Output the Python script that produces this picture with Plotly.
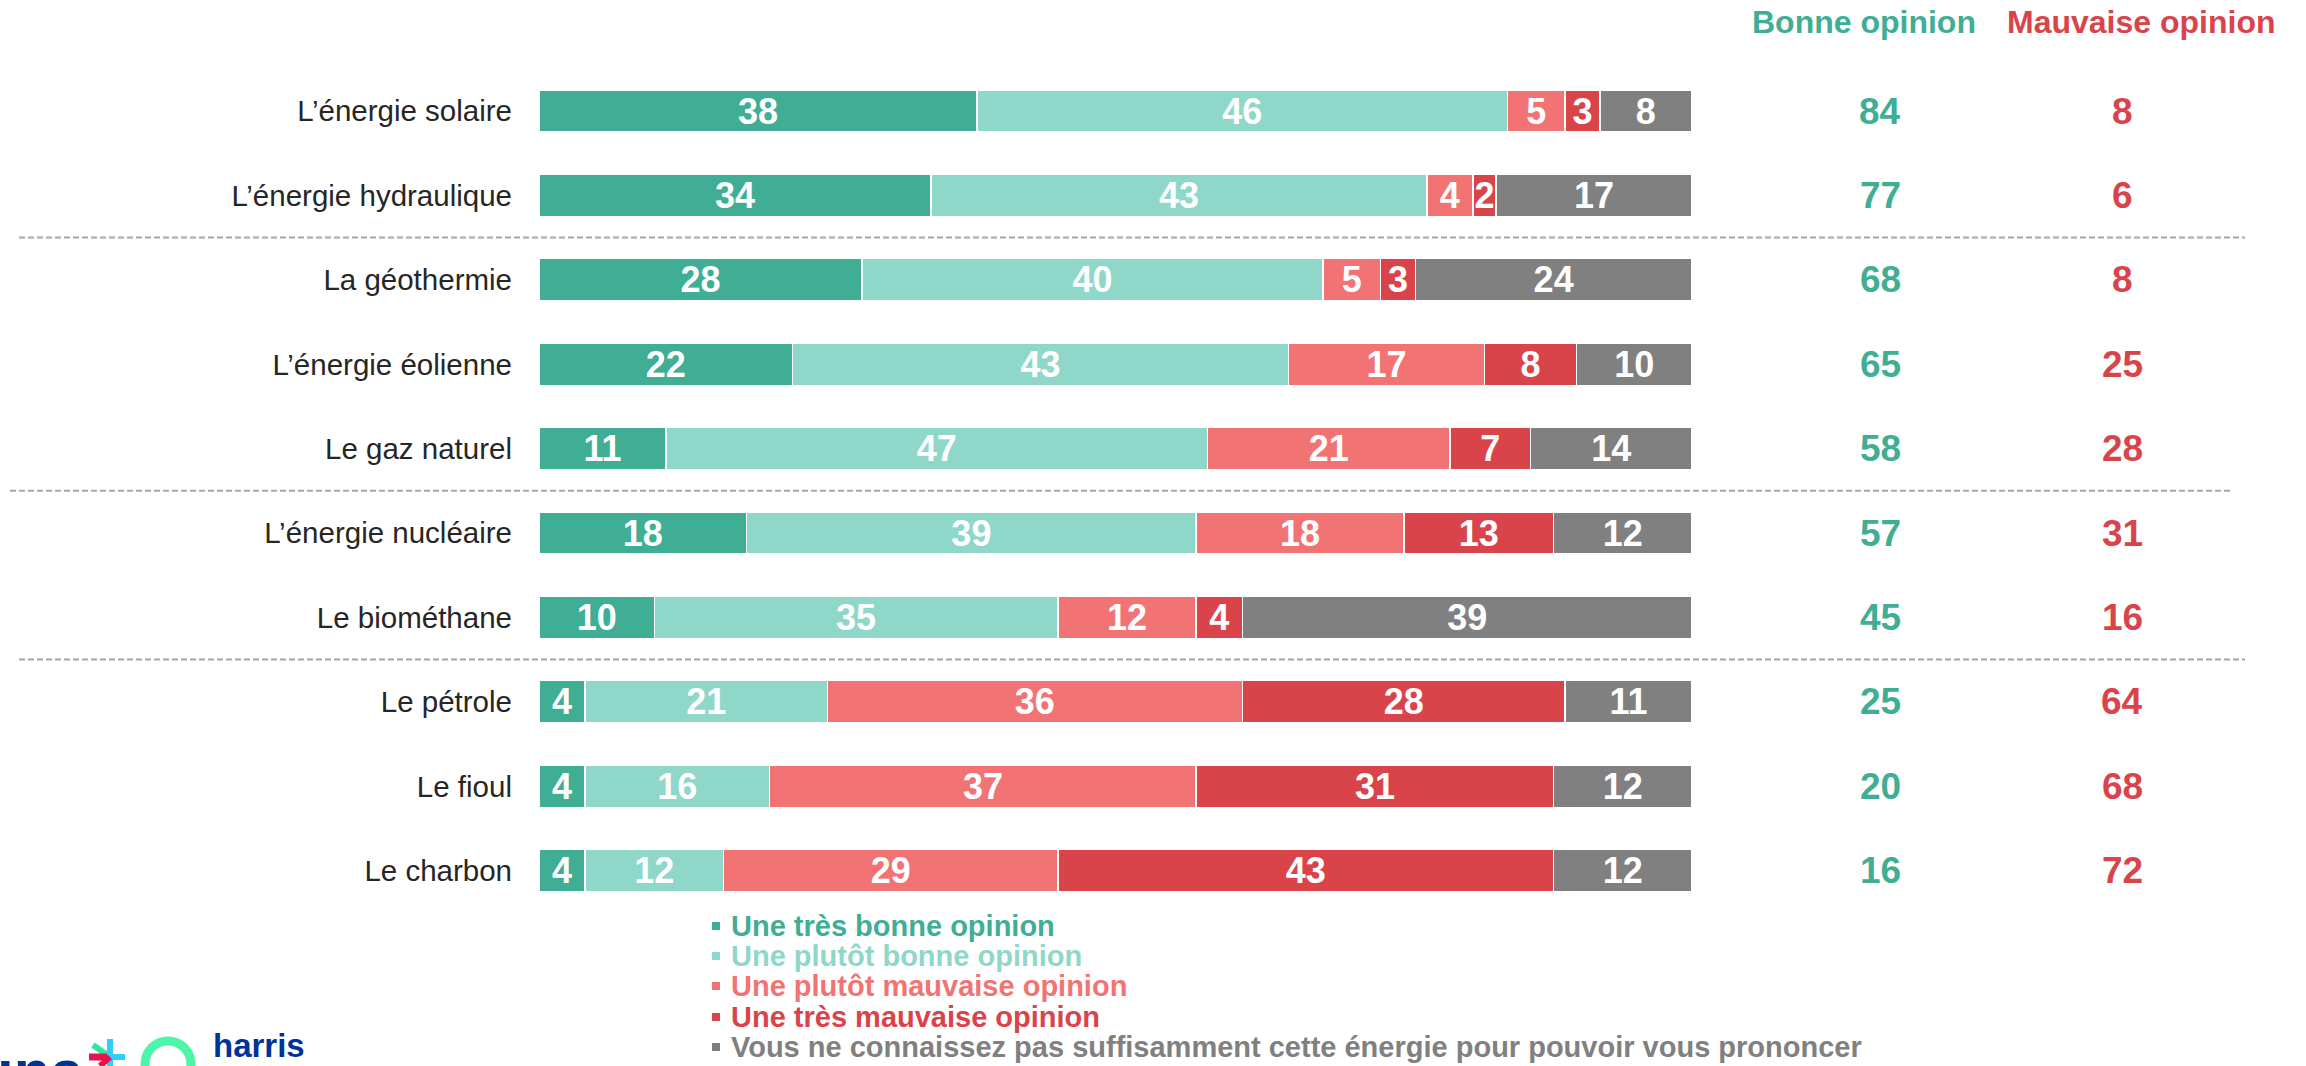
import plotly.graph_objects as go

categories = ["L’énergie solaire", "L’énergie hydraulique", "La géothermie",
              "L’énergie éolienne", "Le gaz naturel", "L’énergie nucléaire",
              "Le biométhane", "Le pétrole", "Le fioul", "Le charbon"]
tres_bonne = [38, 34, 28, 22, 11, 18, 10, 4, 4, 4]
plutot_bonne = [46, 43, 40, 43, 47, 39, 35, 21, 16, 12]
plutot_mauvaise = [5, 4, 5, 17, 21, 18, 12, 36, 37, 29]
tres_mauvaise = [3, 2, 3, 8, 7, 13, 4, 28, 31, 43]
ne_sait_pas = [8, 17, 24, 10, 14, 12, 39, 11, 12, 12]
bonne_total = [84, 77, 68, 65, 58, 57, 45, 25, 20, 16]
mauvaise_total = [8, 6, 8, 25, 28, 31, 16, 64, 68, 72]
series_names = ["Une très bonne opinion", "Une plutôt bonne opinion",
                "Une plutôt mauvaise opinion", "Une très mauvaise opinion",
                "Vous ne connaissez pas suffisamment cette énergie pour pouvoir vous prononcer"]
series_values = [tres_bonne, plutot_bonne, plutot_mauvaise, tres_mauvaise, ne_sait_pas]
colors = ["#3FAE94", "#8FD7C8", "#F27374", "#D9444B", "#808080"]
header_labels = ["Bonne opinion", "Mauvaise opinion"]
separator_positions = [1.5, 4.5, 6.5]

W, H = 2306, 1066
L, R = 539, 1692
ROW0, ROWSTEP = 111, 84.4
FONT = "Liberation Sans, Arial, sans-serif"


def px_x(px):
    return (px - L) / (R - L)


def px_y(py):
    return 1 - py / H


fig = go.Figure()
for name, vals, col in zip(series_names, series_values, colors):
    fig.add_trace(go.Bar(
        y=categories, x=vals, name=name, orientation="h",
        marker=dict(color=col, line=dict(color="white", width=1.5)),
        width=0.5,
        text=vals, texttemplate="%{x}", textposition="inside",
        insidetextanchor="middle", constraintext="none", textangle=0,
        textfont=dict(color="white", size=36, family=FONT, weight="bold"),
        hoverinfo="skip", showlegend=False,
    ))

annotations = []
annotations.append(dict(x=px_x(1864), y=px_y(22), xref="paper", yref="paper",
                        xanchor="center", yanchor="middle",
                        text="<b>%s</b>" % header_labels[0], showarrow=False,
                        font=dict(size=32, color=colors[0], family=FONT)))
annotations.append(dict(x=px_x(2141), y=px_y(22), xref="paper", yref="paper",
                        xanchor="center", yanchor="middle",
                        text="<b>%s</b>" % header_labels[1], showarrow=False,
                        font=dict(size=32, color=colors[3], family=FONT)))
for cat, b, m in zip(categories, bonne_total, mauvaise_total):
    annotations.append(dict(x=px_x(1880), y=cat, xref="paper", yref="y",
                            xanchor="center", yanchor="middle",
                            text="<b>%d</b>" % b, showarrow=False,
                            font=dict(size=37, color=colors[0], family=FONT)))
    annotations.append(dict(x=px_x(2122), y=cat, xref="paper", yref="y",
                            xanchor="center", yanchor="middle",
                            text="<b>%d</b>" % m, showarrow=False,
                            font=dict(size=37, color=colors[3], family=FONT)))

shapes = []
sep_x = [(19, 2245), (10, 2231), (19, 2245)]
for yy, (x0, x1) in zip(separator_positions, sep_x):
    shapes.append(dict(type="line", xref="paper", yref="y", x0=px_x(x0), x1=px_x(x1),
                       y0=yy, y1=yy, line=dict(color="#A6A6A6", width=2, dash="6px,3px")))

# legend
leg_y = [926, 956, 986, 1017, 1047]
for name, col, ly in zip(series_names, colors, leg_y):
    shapes.append(dict(type="rect", xref="paper", yref="paper",
                       x0=px_x(712), x1=px_x(720), y0=px_y(ly + 4), y1=px_y(ly - 4),
                       fillcolor=col, line=dict(width=0)))
    annotations.append(dict(x=px_x(729), y=px_y(ly), xref="paper", yref="paper",
                            xanchor="left", yanchor="middle", text="<b>%s</b>" % name,
                            showarrow=False, font=dict(size=29, color=col, family=FONT)))

# logo (approximation)
annotations.append(dict(x=px_x(86), y=px_y(1036), xref="paper", yref="paper",
                        xanchor="right", yanchor="top", text="<b>una</b>", showarrow=False,
                        font=dict(size=60, color="#003399", family=FONT)))
star = [((93, 1045), (110, 1057), "#2EE6A0", 6),
        ((89, 1057), (110, 1057), "#E8114B", 7),
        ((110, 1039), (110, 1066), "#33CCFF", 6),
        ((110, 1057), (125, 1057), "#33CCFF", 6),
        ((110, 1057), (100, 1066), "#E8114B", 6)]
for (x0, y0), (x1, y1), c, w in star:
    shapes.append(dict(type="line", xref="paper", yref="paper",
                       x0=px_x(x0), x1=px_x(x1), y0=px_y(y0), y1=px_y(y1),
                       line=dict(color=c, width=w)))
shapes.append(dict(type="circle", xref="paper", yref="paper",
                   x0=px_x(145), x1=px_x(191), y0=px_y(1087), y1=px_y(1041),
                   line=dict(color="#4DF5A8", width=9)))
annotations.append(dict(x=px_x(211), y=px_y(1066), xref="paper", yref="paper",
                        xanchor="left", yanchor="bottom", text="<b>harris</b>", showarrow=False,
                        font=dict(size=33, color="#003399", family=FONT)))

fig.update_layout(
    width=W, height=H, autosize=False,
    margin=dict(l=L, r=W - R, t=0, b=0, pad=0),
    paper_bgcolor="white", plot_bgcolor="white",
    barmode="stack", bargap=0.5,
    xaxis=dict(range=[0, 100], visible=False, fixedrange=True),
    yaxis=dict(type="category", categoryorder="array", categoryarray=categories,
               range=[(H - ROW0) / ROWSTEP, -ROW0 / ROWSTEP],
               showgrid=False, zeroline=False, showline=False, ticks="",
               ticklabelstandoff=26,
               tickfont=dict(size=29.5, color="#262626", family=FONT), fixedrange=True),
    annotations=annotations, shapes=shapes,
    font=dict(family=FONT),
)

fig.write_html("out.html", config={"displayModeBar": False},
               post_script="document.body.style.margin='0';document.body.style.overflow='hidden';")
